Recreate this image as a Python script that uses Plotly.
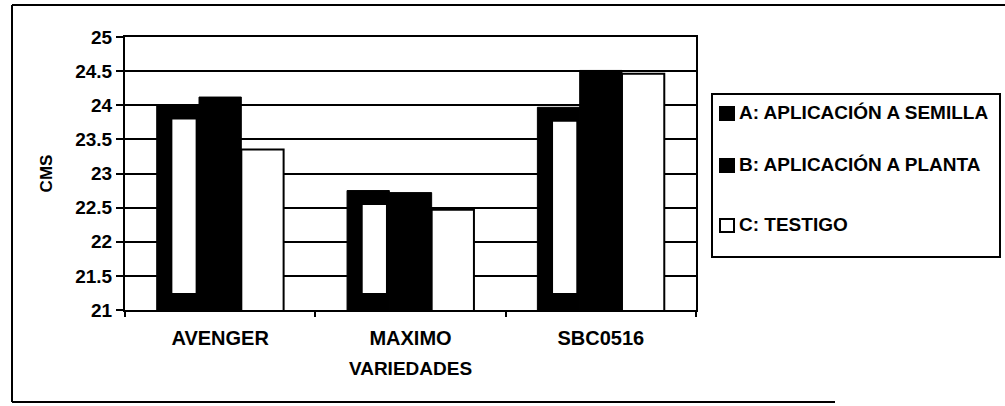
import plotly.graph_objects as go

# ---- data ----
categories = ["AVENGER", "MAXIMO", "SBC0516"]
series_names = ["A: APLICACIÓN A SEMILLA", "B: APLICACIÓN A PLANTA", "C: TESTIGO"]
values_a = [24.00, 22.75, 23.97]
values_b = [24.12, 22.72, 24.51]
values_c = [23.35, 22.47, 24.46]
y_min, y_max, y_step = 21, 25, 0.5
x_title = "VARIEDADES"
y_title = "CMS"

FONT = "Liberation Sans, Arial, Helvetica, sans-serif"
W, H = 1005, 406
L, R, T, B = 125, 309, 37, 96
PW, PH = W - L - R, H - T - B


def px(x):
    return (x - L) / PW


def py(y):
    return (H - B - y) / PH


bar_w = 2 / 9
offsets = [-1 / 3, -1 / 9, 1 / 9]

fig = go.Figure()
fig.add_trace(go.Bar(x=categories, y=values_a, name=series_names[0], offset=offsets[0], width=bar_w,
                     marker=dict(color="black", line=dict(color="black", width=1)), showlegend=False))
# light inner area of the A bars (gradient-like fill in the original)
inset_top, inset_base = 0.21, 0.25
fig.add_trace(go.Bar(x=categories, y=[v - inset_top - (y_min + inset_base) for v in values_a],
                     base=y_min + inset_base, offset=offsets[0] + bar_w * 0.37, width=bar_w * 0.55,
                     marker=dict(color="white", line=dict(width=0)), showlegend=False, hoverinfo="skip"))
fig.add_trace(go.Bar(x=categories, y=values_b, name=series_names[1], offset=offsets[1], width=bar_w,
                     marker=dict(color="black", line=dict(color="black", width=1)), showlegend=False))
fig.add_trace(go.Bar(x=categories, y=values_c, name=series_names[2], offset=offsets[2], width=bar_w,
                     marker=dict(color="white", line=dict(color="black", width=2)), showlegend=False))

# ---- manual legend (box, swatches, labels) ----
shapes = []
annotations = []
leg_rows = [112, 164, 224]
swatch_fill = ["black", "black", "white"]
shapes.append(dict(type="rect", xref="paper", yref="paper", x0=px(712), x1=px(1000), y0=py(94), y1=py(257),
                   line=dict(color="black", width=2), fillcolor="rgba(0,0,0,0)"))
for name, yc, fill in zip(series_names, leg_rows, swatch_fill):
    shapes.append(dict(type="rect", xref="paper", yref="paper", x0=px(720), x1=px(734),
                       y0=py(yc - 5), y1=py(yc + 8), fillcolor=fill, line=dict(color="black", width=2)))
    annotations.append(dict(text=name, xref="paper", yref="paper", x=px(737), y=py(yc), xanchor="left",
                            yanchor="middle", showarrow=False,
                            font=dict(family=FONT, size=19, color="black", weight="bold")))

# ---- outer chart frame ----
for x0, y0, x1, y1 in [(12, 5, 12, 402), (12, 5, 1005, 5), (12, 402, 835, 402)]:
    shapes.append(dict(type="line", xref="paper", yref="paper", x0=px(x0), y0=py(y0), x1=px(x1), y1=py(y1),
                       line=dict(color="black", width=2)))

fig.update_layout(
    width=W, height=H,
    margin=dict(l=L, r=R, t=T, b=B),
    barmode="overlay",
    paper_bgcolor="white", plot_bgcolor="white",
    font=dict(family=FONT, color="black", weight="bold"),
    shapes=shapes, annotations=annotations,
    xaxis=dict(type="category", range=[-0.5, 2.5], tickson="boundaries", ticks="outside", ticklen=5,
               tickwidth=1.5, tickcolor="black", showline=True, linecolor="black", linewidth=2, mirror=True,
               showgrid=False, ticklabelstandoff=9,
               tickfont=dict(family=FONT, size=20, color="black", weight="bold"),
               title=dict(text=x_title, standoff=14, font=dict(family=FONT, size=19, color="black", weight="bold"))),
    yaxis=dict(range=[y_min, y_max], dtick=y_step, tick0=y_min, ticks="outside", ticklen=7, tickwidth=1.5,
               tickcolor="black", showline=True, linecolor="black", linewidth=2, mirror=True,
               showgrid=True, gridcolor="black", gridwidth=1.5, zeroline=False,
               tickfont=dict(family=FONT, size=19, color="black", weight="bold"),
               title=dict(text=y_title, standoff=18, font=dict(family=FONT, size=17, color="black", weight="bold"))),
)

fig.write_html("out.html", config={"displayModeBar": False},
               post_script="document.body.style.margin='0';")
